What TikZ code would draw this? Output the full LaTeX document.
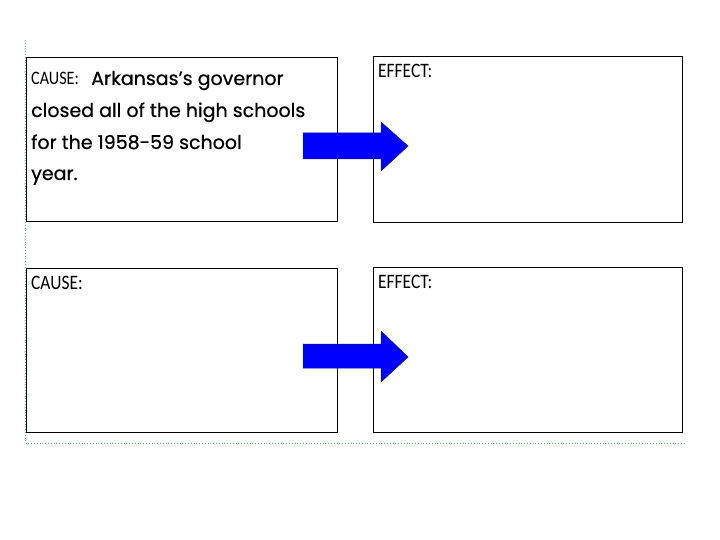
\documentclass[tikz,border=0pt]{standalone}
\usepackage{fontspec}
\setmainfont{Poppins}[FakeBold=0.6]
\newfontfamily\labfont[FakeStretch=0.85]{Carlito}
\definecolor{guide}{RGB}{90,160,215}
\definecolor{arrowblue}{RGB}{0,0,255}
\definecolor{arrowedge}{RGB}{20,20,120}
\tikzset{
  box/.style={draw=black, line width=1pt, anchor=north west, inner sep=0pt},
  lab/.style={anchor=base west, inner sep=0pt, font=\labfont\fontsize{20.5}{20.5}\selectfont},
  main/.style={anchor=base west, inner sep=0pt, font=\fontsize{19}{19}\selectfont},
  blockarrow/.style={fill=arrowblue, draw=arrowedge, line width=0.5pt},
  guideline/.style={draw=guide, dotted, line width=0.8pt}
}
\begin{document}
\begin{tikzpicture}[x=1pt,y=-1pt]
\useasboundingbox (0,0) rectangle (720,540);
% guides
\coordinate (g1) at (25.5,40);
\coordinate (g2) at (25.5,443);
\coordinate (g3) at (686,443);
\draw[guideline] (g1) -- (g2) -- (g3);
% boxes
\node[box, minimum width=311pt, minimum height=164pt] (c1) at (26,57) {};
\node[box, minimum width=309pt, minimum height=166pt] (e1) at (373,56) {};
\node[box, minimum width=311pt, minimum height=164pt] (c2) at (26,268) {};
\node[box, minimum width=309pt, minimum height=165pt] (e2) at (373,267) {};
% labels
\node[lab, font=\labfont\fontsize{19}{19}\selectfont] (t1) at (31,85) {CAUSE:};
\node[lab] (t2) at (378,78) {EFFECT:};
\node[lab] (t3) at (31,289) {CAUSE:};
\node[lab] (t4) at (378,288) {EFFECT:};
% main text
\node[main] (m1) at (91,85) {Arkansas’s governor};
\node[main] (m2) at (31,117) {closed all of the high schools};
\node[main] (m3) at (31,149) {for the 1958-59 school};
\node[main] (m4) at (31,180) {year.};
% arrows
\draw[blockarrow] (303,133) -- (381,133) -- (381,122) -- (408,146) -- (381,171) -- (381,159) -- (303,159) -- cycle;
\draw[blockarrow] (303,344) -- (381,344) -- (381,331) -- (408,357) -- (381,382) -- (381,368) -- (303,368) -- cycle;
\end{tikzpicture}
\end{document}
